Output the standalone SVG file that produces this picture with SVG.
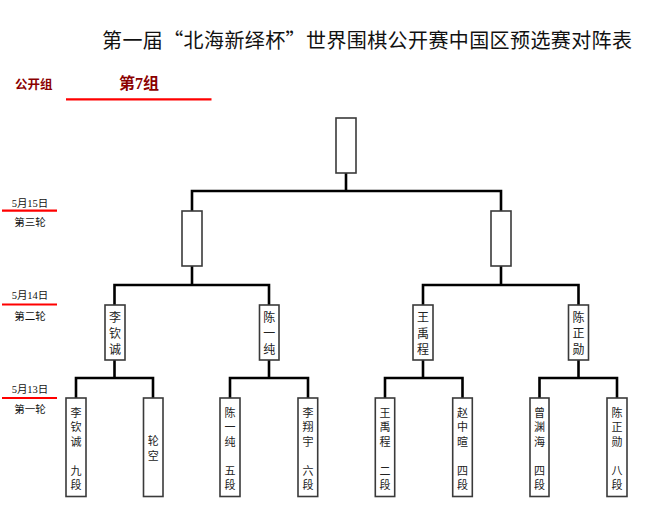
<svg xmlns="http://www.w3.org/2000/svg" width="650" height="512" viewBox="0 0 650 512">
<style>
.bg{fill:#fff}
.box{fill:#fff;stroke:#3a3a3a;stroke-width:1.6}
.ln{fill:none;stroke:#000;stroke-width:2.6;stroke-linejoin:miter}
.title{font-family:"Noto Sans CJK SC","Liberation Serif",sans-serif;font-size:20px;fill:#111}
.grp{font-family:"Liberation Serif","Noto Sans CJK SC",serif;fill:#8b0000}
.date{font-family:"Liberation Serif","Noto Sans CJK SC",serif;font-size:10.5px;fill:#111;text-anchor:middle}
.nm{font-family:"Noto Sans CJK SC",sans-serif;font-size:12px;fill:#222;text-anchor:middle;dominant-baseline:central}
.nm1{font-family:"Noto Sans CJK SC",sans-serif;font-size:11px;fill:#222;text-anchor:middle;dominant-baseline:central}
.red{stroke:#ff0000;stroke-width:2.2}
</style>
<rect class="bg" x="0" y="0" width="650" height="512"/>
<text class="title" x="102" y="48" textLength="530" lengthAdjust="spacing">第一届“北海新绎杯”世界围棋公开赛中国区预选赛对阵表</text>
<g id="header">
<text class="grp" x="15" y="89" font-size="12.5" font-weight="600">公开组</text>
<text class="grp" x="139" y="89" font-size="16" font-weight="bold" text-anchor="middle">第7组</text>
<line class="red" x1="66" y1="99.3" x2="211.5" y2="99.3"/>
</g>
<g id="rounds">
<text class="date" x="30" y="206.5">5月15日</text>
<line class="red" x1="2" y1="210.7" x2="57" y2="210.7"/>
<text class="date" x="30" y="226.2">第三轮</text>
<text class="date" x="30" y="298.8">5月14日</text>
<line class="red" x1="2" y1="304.5" x2="57" y2="304.5"/>
<text class="date" x="30" y="319.9">第二轮</text>
<text class="date" x="30" y="392.8">5月13日</text>
<line class="red" x1="2" y1="398" x2="57" y2="398"/>
<text class="date" x="30" y="413.4">第一轮</text>
</g>
<g id="connectors">
<path class="ln" d="M346,173 V191"/>
<path class="ln" d="M192,211 V191 H501 V211"/>
<path class="ln" d="M192,266 V285"/>
<path class="ln" d="M501,266 V285"/>
<path class="ln" d="M114.5,305 V285 H269 V305"/>
<path class="ln" d="M423,305 V285 H578.5 V305"/>
<path class="ln" d="M114.5,360 V378"/>
<path class="ln" d="M269,360 V378"/>
<path class="ln" d="M423,360 V378"/>
<path class="ln" d="M578.5,360 V378"/>
<path class="ln" d="M76,398 V378 H153 V398"/>
<path class="ln" d="M230,398 V378 H308 V398"/>
<path class="ln" d="M385,398 V378 H462.5 V398"/>
<path class="ln" d="M539.5,398 V378 H617 V398"/>
</g>
<g id="final"><rect class="box" x="336" y="118" width="20" height="55"/></g>
<g id="r3-left"><rect class="box" x="182" y="211" width="20" height="55"/></g>
<g id="r3-right"><rect class="box" x="491" y="211" width="20" height="55"/></g>
<g id="r2-1"><rect class="box" x="105" y="305" width="20" height="55"/>
<text class="nm" x="115" y="316.7">李</text><text class="nm" x="115" y="332.7">钦</text><text class="nm" x="115" y="348.7">诚</text></g>
<g id="r2-2"><rect class="box" x="259.5" y="305" width="19.5" height="55"/>
<text class="nm" x="269.2" y="316.7">陈</text><text class="nm" x="269.2" y="332.7">一</text><text class="nm" x="269.2" y="348.7">纯</text></g>
<g id="r2-3"><rect class="box" x="413" y="305" width="20" height="55"/>
<text class="nm" x="423" y="316.7">王</text><text class="nm" x="423" y="332.7">禹</text><text class="nm" x="423" y="348.7">程</text></g>
<g id="r2-4"><rect class="box" x="568.5" y="305" width="20" height="55"/>
<text class="nm" x="578.5" y="316.7">陈</text><text class="nm" x="578.5" y="332.7">正</text><text class="nm" x="578.5" y="348.7">勋</text></g>
<g id="r1-1"><rect class="box" x="66" y="398" width="20" height="98.5"/>
<text class="nm1" x="76" y="411.5">李</text><text class="nm1" x="76" y="426">钦</text><text class="nm1" x="76" y="440.5">诚</text><text class="nm1" x="76" y="469.5">九</text><text class="nm1" x="76" y="484">段</text></g>
<g id="r1-2"><rect class="box" x="143.5" y="398" width="19.5" height="98.5"/>
<text class="nm1" x="153.2" y="440">轮</text><text class="nm1" x="153.2" y="454.5">空</text></g>
<g id="r1-3"><rect class="box" x="220" y="398" width="20" height="98.5"/>
<text class="nm1" x="230" y="411.5">陈</text><text class="nm1" x="230" y="426">一</text><text class="nm1" x="230" y="440.5">纯</text><text class="nm1" x="230" y="469.5">五</text><text class="nm1" x="230" y="484">段</text></g>
<g id="r1-4"><rect class="box" x="298" y="398" width="19.7" height="98.5"/>
<text class="nm1" x="308" y="411.5">李</text><text class="nm1" x="308" y="426">翔</text><text class="nm1" x="308" y="440.5">宇</text><text class="nm1" x="308" y="469.5">六</text><text class="nm1" x="308" y="484">段</text></g>
<g id="r1-5"><rect class="box" x="375.3" y="398" width="19.4" height="98.5"/>
<text class="nm1" x="385" y="411.5">王</text><text class="nm1" x="385" y="426">禹</text><text class="nm1" x="385" y="440.5">程</text><text class="nm1" x="385" y="469.5">二</text><text class="nm1" x="385" y="484">段</text></g>
<g id="r1-6"><rect class="box" x="452.7" y="398" width="19.6" height="98.5"/>
<text class="nm1" x="462.5" y="411.5">赵</text><text class="nm1" x="462.5" y="426">中</text><text class="nm1" x="462.5" y="440.5">暄</text><text class="nm1" x="462.5" y="469.5">四</text><text class="nm1" x="462.5" y="484">段</text></g>
<g id="r1-7"><rect class="box" x="530" y="398" width="19" height="98.5"/>
<text class="nm1" x="539.5" y="411.5">曾</text><text class="nm1" x="539.5" y="426">渊</text><text class="nm1" x="539.5" y="440.5">海</text><text class="nm1" x="539.5" y="469.5">四</text><text class="nm1" x="539.5" y="484">段</text></g>
<g id="r1-8"><rect class="box" x="607" y="398" width="20" height="98.5"/>
<text class="nm1" x="617" y="411.5">陈</text><text class="nm1" x="617" y="426">正</text><text class="nm1" x="617" y="440.5">勋</text><text class="nm1" x="617" y="469.5">八</text><text class="nm1" x="617" y="484">段</text></g>
</svg>
